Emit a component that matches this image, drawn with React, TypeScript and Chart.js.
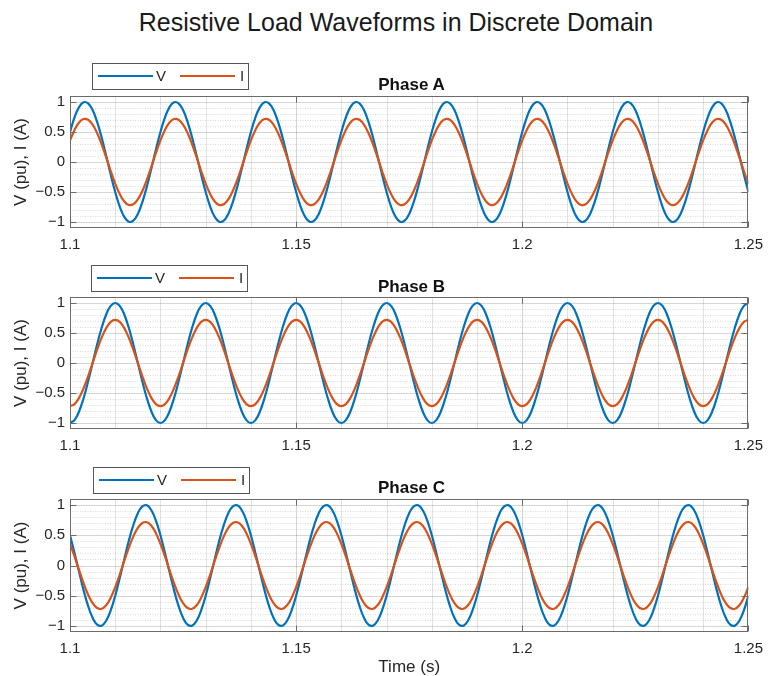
import React, { useEffect, useRef } from 'react';
import { Chart, registerables } from 'chart.js';

Chart.register(...registerables);

// ---------- data ----------
const T = [
  1.100, 1.101, 1.102, 1.103, 1.104, 1.105, 1.106, 1.107, 1.108, 1.109,
  1.110, 1.111, 1.112, 1.113, 1.114, 1.115, 1.116, 1.117, 1.118, 1.119,
  1.120, 1.121, 1.122, 1.123, 1.124, 1.125, 1.126, 1.127, 1.128, 1.129,
  1.130, 1.131, 1.132, 1.133, 1.134, 1.135, 1.136, 1.137, 1.138, 1.139,
  1.140, 1.141, 1.142, 1.143, 1.144, 1.145, 1.146, 1.147, 1.148, 1.149,
  1.150, 1.151, 1.152, 1.153, 1.154, 1.155, 1.156, 1.157, 1.158, 1.159,
  1.160, 1.161, 1.162, 1.163, 1.164, 1.165, 1.166, 1.167, 1.168, 1.169,
  1.170, 1.171, 1.172, 1.173, 1.174, 1.175, 1.176, 1.177, 1.178, 1.179,
  1.180, 1.181, 1.182, 1.183, 1.184, 1.185, 1.186, 1.187, 1.188, 1.189,
  1.190, 1.191, 1.192, 1.193, 1.194, 1.195, 1.196, 1.197, 1.198, 1.199,
  1.200, 1.201, 1.202, 1.203, 1.204, 1.205, 1.206, 1.207, 1.208, 1.209,
  1.210, 1.211, 1.212, 1.213, 1.214, 1.215, 1.216, 1.217, 1.218, 1.219,
  1.220, 1.221, 1.222, 1.223, 1.224, 1.225, 1.226, 1.227, 1.228, 1.229,
  1.230, 1.231, 1.232, 1.233, 1.234, 1.235, 1.236, 1.237, 1.238, 1.239,
  1.240, 1.241, 1.242, 1.243, 1.244, 1.245, 1.246, 1.247, 1.248, 1.249,
  1.250,
];

const VA = [
  0.5, 0.743, 0.914, 0.995, 0.978, 0.866, 0.669, 0.407, 0.105, -0.208, -0.5, -0.743, -0.914, -0.995, -0.978, -0.866, -0.669, -0.407, -0.105, 0.208,
  0.5, 0.743, 0.914, 0.995, 0.978, 0.866, 0.669, 0.407, 0.105, -0.208, -0.5, -0.743, -0.914, -0.995, -0.978, -0.866, -0.669, -0.407, -0.105, 0.208,
  0.5, 0.743, 0.914, 0.995, 0.978, 0.866, 0.669, 0.407, 0.105, -0.208, -0.5, -0.743, -0.914, -0.995, -0.978, -0.866, -0.669, -0.407, -0.105, 0.208,
  0.5, 0.743, 0.914, 0.995, 0.978, 0.866, 0.669, 0.407, 0.105, -0.208, -0.5, -0.743, -0.914, -0.995, -0.978, -0.866, -0.669, -0.407, -0.105, 0.208,
  0.5, 0.743, 0.914, 0.995, 0.978, 0.866, 0.669, 0.407, 0.105, -0.208, -0.5, -0.743, -0.914, -0.995, -0.978, -0.866, -0.669, -0.407, -0.105, 0.208,
  0.5, 0.743, 0.914, 0.995, 0.978, 0.866, 0.669, 0.407, 0.105, -0.208, -0.5, -0.743, -0.914, -0.995, -0.978, -0.866, -0.669, -0.407, -0.105, 0.208,
  0.5, 0.743, 0.914, 0.995, 0.978, 0.866, 0.669, 0.407, 0.105, -0.208, -0.5, -0.743, -0.914, -0.995, -0.978, -0.866, -0.669, -0.407, -0.105, 0.208,
  0.5, 0.743, 0.914, 0.995, 0.978, 0.866, 0.669, 0.407, 0.105, -0.208, -0.5,
];
const IA = [
  0.36, 0.535, 0.658, 0.716, 0.704, 0.624, 0.482, 0.293, 0.076, -0.15, -0.36, -0.535, -0.658, -0.716, -0.704, -0.624, -0.482, -0.293, -0.076, 0.15,
  0.36, 0.535, 0.658, 0.716, 0.704, 0.624, 0.482, 0.293, 0.076, -0.15, -0.36, -0.535, -0.658, -0.716, -0.704, -0.624, -0.482, -0.293, -0.076, 0.15,
  0.36, 0.535, 0.658, 0.716, 0.704, 0.624, 0.482, 0.293, 0.076, -0.15, -0.36, -0.535, -0.658, -0.716, -0.704, -0.624, -0.482, -0.293, -0.076, 0.15,
  0.36, 0.535, 0.658, 0.716, 0.704, 0.624, 0.482, 0.293, 0.076, -0.15, -0.36, -0.535, -0.658, -0.716, -0.704, -0.624, -0.482, -0.293, -0.076, 0.15,
  0.36, 0.535, 0.658, 0.716, 0.704, 0.624, 0.482, 0.293, 0.076, -0.15, -0.36, -0.535, -0.658, -0.716, -0.704, -0.624, -0.482, -0.293, -0.076, 0.15,
  0.36, 0.535, 0.658, 0.716, 0.704, 0.624, 0.482, 0.293, 0.076, -0.15, -0.36, -0.535, -0.658, -0.716, -0.704, -0.624, -0.482, -0.293, -0.076, 0.15,
  0.36, 0.535, 0.658, 0.716, 0.704, 0.624, 0.482, 0.293, 0.076, -0.15, -0.36, -0.535, -0.658, -0.716, -0.704, -0.624, -0.482, -0.293, -0.076, 0.15,
  0.36, 0.535, 0.658, 0.716, 0.704, 0.624, 0.482, 0.293, 0.076, -0.15, -0.36,
];

const VB = [
  -1, -0.951, -0.809, -0.588, -0.309, 0, 0.309, 0.588, 0.809, 0.951, 1, 0.951, 0.809, 0.588, 0.309, 0, -0.309, -0.588, -0.809, -0.951,
  -1, -0.951, -0.809, -0.588, -0.309, 0, 0.309, 0.588, 0.809, 0.951, 1, 0.951, 0.809, 0.588, 0.309, 0, -0.309, -0.588, -0.809, -0.951,
  -1, -0.951, -0.809, -0.588, -0.309, 0, 0.309, 0.588, 0.809, 0.951, 1, 0.951, 0.809, 0.588, 0.309, 0, -0.309, -0.588, -0.809, -0.951,
  -1, -0.951, -0.809, -0.588, -0.309, 0, 0.309, 0.588, 0.809, 0.951, 1, 0.951, 0.809, 0.588, 0.309, 0, -0.309, -0.588, -0.809, -0.951,
  -1, -0.951, -0.809, -0.588, -0.309, 0, 0.309, 0.588, 0.809, 0.951, 1, 0.951, 0.809, 0.588, 0.309, 0, -0.309, -0.588, -0.809, -0.951,
  -1, -0.951, -0.809, -0.588, -0.309, 0, 0.309, 0.588, 0.809, 0.951, 1, 0.951, 0.809, 0.588, 0.309, 0, -0.309, -0.588, -0.809, -0.951,
  -1, -0.951, -0.809, -0.588, -0.309, 0, 0.309, 0.588, 0.809, 0.951, 1, 0.951, 0.809, 0.588, 0.309, 0, -0.309, -0.588, -0.809, -0.951,
  -1, -0.951, -0.809, -0.588, -0.309, 0, 0.309, 0.588, 0.809, 0.951, 1,
];
const IB = [
  -0.72, -0.685, -0.582, -0.423, -0.222, 0, 0.222, 0.423, 0.582, 0.685, 0.72, 0.685, 0.582, 0.423, 0.222, 0, -0.222, -0.423, -0.582, -0.685,
  -0.72, -0.685, -0.582, -0.423, -0.222, 0, 0.222, 0.423, 0.582, 0.685, 0.72, 0.685, 0.582, 0.423, 0.222, 0, -0.222, -0.423, -0.582, -0.685,
  -0.72, -0.685, -0.582, -0.423, -0.222, 0, 0.222, 0.423, 0.582, 0.685, 0.72, 0.685, 0.582, 0.423, 0.222, 0, -0.222, -0.423, -0.582, -0.685,
  -0.72, -0.685, -0.582, -0.423, -0.222, 0, 0.222, 0.423, 0.582, 0.685, 0.72, 0.685, 0.582, 0.423, 0.222, 0, -0.222, -0.423, -0.582, -0.685,
  -0.72, -0.685, -0.582, -0.423, -0.222, 0, 0.222, 0.423, 0.582, 0.685, 0.72, 0.685, 0.582, 0.423, 0.222, 0, -0.222, -0.423, -0.582, -0.685,
  -0.72, -0.685, -0.582, -0.423, -0.222, 0, 0.222, 0.423, 0.582, 0.685, 0.72, 0.685, 0.582, 0.423, 0.222, 0, -0.222, -0.423, -0.582, -0.685,
  -0.72, -0.685, -0.582, -0.423, -0.222, 0, 0.222, 0.423, 0.582, 0.685, 0.72, 0.685, 0.582, 0.423, 0.222, 0, -0.222, -0.423, -0.582, -0.685,
  -0.72, -0.685, -0.582, -0.423, -0.222, 0, 0.222, 0.423, 0.582, 0.685, 0.72,
];

const VC = [
  0.5, 0.208, -0.105, -0.407, -0.669, -0.866, -0.978, -0.995, -0.914, -0.743, -0.5, -0.208, 0.105, 0.407, 0.669, 0.866, 0.978, 0.995, 0.914, 0.743,
  0.5, 0.208, -0.105, -0.407, -0.669, -0.866, -0.978, -0.995, -0.914, -0.743, -0.5, -0.208, 0.105, 0.407, 0.669, 0.866, 0.978, 0.995, 0.914, 0.743,
  0.5, 0.208, -0.105, -0.407, -0.669, -0.866, -0.978, -0.995, -0.914, -0.743, -0.5, -0.208, 0.105, 0.407, 0.669, 0.866, 0.978, 0.995, 0.914, 0.743,
  0.5, 0.208, -0.105, -0.407, -0.669, -0.866, -0.978, -0.995, -0.914, -0.743, -0.5, -0.208, 0.105, 0.407, 0.669, 0.866, 0.978, 0.995, 0.914, 0.743,
  0.5, 0.208, -0.105, -0.407, -0.669, -0.866, -0.978, -0.995, -0.914, -0.743, -0.5, -0.208, 0.105, 0.407, 0.669, 0.866, 0.978, 0.995, 0.914, 0.743,
  0.5, 0.208, -0.105, -0.407, -0.669, -0.866, -0.978, -0.995, -0.914, -0.743, -0.5, -0.208, 0.105, 0.407, 0.669, 0.866, 0.978, 0.995, 0.914, 0.743,
  0.5, 0.208, -0.105, -0.407, -0.669, -0.866, -0.978, -0.995, -0.914, -0.743, -0.5, -0.208, 0.105, 0.407, 0.669, 0.866, 0.978, 0.995, 0.914, 0.743,
  0.5, 0.208, -0.105, -0.407, -0.669, -0.866, -0.978, -0.995, -0.914, -0.743, -0.5,
];
const IC = [
  0.36, 0.15, -0.076, -0.293, -0.482, -0.624, -0.704, -0.716, -0.658, -0.535, -0.36, -0.15, 0.076, 0.293, 0.482, 0.624, 0.704, 0.716, 0.658, 0.535,
  0.36, 0.15, -0.076, -0.293, -0.482, -0.624, -0.704, -0.716, -0.658, -0.535, -0.36, -0.15, 0.076, 0.293, 0.482, 0.624, 0.704, 0.716, 0.658, 0.535,
  0.36, 0.15, -0.076, -0.293, -0.482, -0.624, -0.704, -0.716, -0.658, -0.535, -0.36, -0.15, 0.076, 0.293, 0.482, 0.624, 0.704, 0.716, 0.658, 0.535,
  0.36, 0.15, -0.076, -0.293, -0.482, -0.624, -0.704, -0.716, -0.658, -0.535, -0.36, -0.15, 0.076, 0.293, 0.482, 0.624, 0.704, 0.716, 0.658, 0.535,
  0.36, 0.15, -0.076, -0.293, -0.482, -0.624, -0.704, -0.716, -0.658, -0.535, -0.36, -0.15, 0.076, 0.293, 0.482, 0.624, 0.704, 0.716, 0.658, 0.535,
  0.36, 0.15, -0.076, -0.293, -0.482, -0.624, -0.704, -0.716, -0.658, -0.535, -0.36, -0.15, 0.076, 0.293, 0.482, 0.624, 0.704, 0.716, 0.658, 0.535,
  0.36, 0.15, -0.076, -0.293, -0.482, -0.624, -0.704, -0.716, -0.658, -0.535, -0.36, -0.15, 0.076, 0.293, 0.482, 0.624, 0.704, 0.716, 0.658, 0.535,
  0.36, 0.15, -0.076, -0.293, -0.482, -0.624, -0.704, -0.716, -0.658, -0.535, -0.36,
];

const SERIES_LABELS = ['V', 'I'];
const PHASE_TITLES = ['Phase A', 'Phase B', 'Phase C'];
const X_TICKS = [1.1, 1.15, 1.2, 1.25];
const Y_TICKS = [-1, -0.5, 0, 0.5, 1];
const MAIN_TITLE = 'Resistive Load Waveforms in Discrete Domain';
const Y_TITLE = 'V (pu), I (A)';
const X_TITLE = 'Time (s)';

// ---------- style ----------
const BLUE = '#0072BD';
const ORANGE = '#D95319';
const FONT = '"Liberation Sans", Arial, Helvetica, sans-serif';
const AXIS_COLOR = '#6b6b6b';
const TEXT_COLOR = '#262626';

const PHASES = [
  { title: PHASE_TITLES[0], v: VA, i: IA, top: 96, bottom: 228, legendLeft: 92, legendTop: 63, titleY: 85, showX: false },
  { title: PHASE_TITLES[1], v: VB, i: IB, top: 297, bottom: 429, legendLeft: 91, legendTop: 265, titleY: 287, showX: false },
  { title: PHASE_TITLES[2], v: VC, i: IC, top: 499, bottom: 632, legendLeft: 93, legendTop: 467, titleY: 488, showX: true },
];

const PAD_TOP = 40;

const matlabAxes = {
  id: 'matlabAxes',
  beforeDatasetsDraw(chart: any) {
    const { ctx, chartArea: a, scales } = chart;
    const x = scales.x;
    const y = scales.y;
    ctx.save();
    ctx.lineWidth = 1;
    // vertical grid (minor every 0.01, major every 0.05)
    for (let k = 1; k < 15; k++) {
      const px = Math.round(x.getPixelForValue(1.1 + k * 0.01)) + 0.5;
      ctx.setLineDash([]);
      ctx.strokeStyle = k % 5 === 0 ? 'rgba(0,0,0,0.17)' : 'rgba(0,0,0,0.11)';
      ctx.beginPath();
      ctx.moveTo(px, a.top);
      ctx.lineTo(px, a.bottom);
      ctx.stroke();
    }
    // horizontal grid (minor every 0.1 dotted, major every 0.5)
    for (let k = -10; k <= 10; k++) {
      const major = k % 5 === 0;
      const py = Math.round(y.getPixelForValue(k / 10)) + 0.5;
      ctx.setLineDash(major ? [] : [1, 1.5]);
      ctx.strokeStyle = major ? 'rgba(0,0,0,0.16)' : 'rgba(0,0,0,0.14)';
      ctx.beginPath();
      ctx.moveTo(a.left, py);
      ctx.lineTo(a.right, py);
      ctx.stroke();
    }
    ctx.restore();
  },
  afterDatasetsDraw(chart: any) {
    const { ctx, chartArea: a, scales } = chart;
    const x = scales.x;
    const y = scales.y;
    const L = Math.round(a.left) + 0.5;
    const R = Math.round(a.right) - 0.5;
    const Tp = Math.round(a.top) + 0.5;
    const B = Math.round(a.bottom) - 0.5;
    ctx.save();
    ctx.strokeStyle = AXIS_COLOR;
    ctx.lineWidth = 1;
    ctx.setLineDash([]);
    ctx.strokeRect(L, Tp, R - L, B - Tp);
    const tl = 6;
    ctx.beginPath();
    for (const v of X_TICKS) {
      const px = Math.round(x.getPixelForValue(v)) + 0.5;
      ctx.moveTo(px, B);
      ctx.lineTo(px, B - tl);
      ctx.moveTo(px, Tp);
      ctx.lineTo(px, Tp + tl);
    }
    for (const v of Y_TICKS) {
      const py = Math.round(y.getPixelForValue(v)) + 0.5;
      ctx.moveTo(L, py);
      ctx.lineTo(L + tl, py);
      ctx.moveTo(R, py);
      ctx.lineTo(R - tl, py);
    }
    ctx.stroke();
    ctx.restore();
  },
};

function fmtY(v: number) {
  if (Math.abs(v) < 1e-9) return '0';
  const s = String(Math.round(Math.abs(v) * 100) / 100);
  return v < 0 ? '\u2212' + s : s;
}

function PhaseChart({ cfg }: { cfg: any }) {
  const ref = useRef<HTMLCanvasElement>(null);
  const plotH = cfg.bottom - cfg.top;
  const xAxisH = cfg.showX ? 678 - cfg.bottom : 30;
  const canvasH = PAD_TOP + plotH + xAxisH;
  const canvasTop = cfg.top - PAD_TOP;

  useEffect(() => {
    if (!ref.current) return;
    const chart = new Chart(ref.current, {
      type: 'line',
      data: {
        labels: T,
        datasets: [
          {
            label: SERIES_LABELS[0],
            data: cfg.v,
            borderColor: BLUE,
            borderWidth: 2.2,
            pointRadius: 0,
            tension: 0.4,
            fill: false,
            order: 2,
          },
          {
            label: SERIES_LABELS[1],
            data: cfg.i,
            borderColor: ORANGE,
            borderWidth: 2.2,
            pointRadius: 0,
            tension: 0.4,
            fill: false,
            order: 1,
          },
        ],
      },
      options: {
        responsive: false,
        animation: false,
        devicePixelRatio: 1,
        events: [],
        layout: { padding: { top: PAD_TOP, right: 18, left: 0, bottom: 0 } },
        plugins: {
          legend: { display: false },
          tooltip: { enabled: false },
          title: { display: false },
        },
        scales: {
          x: {
            type: 'linear',
            min: 1.1,
            max: 1.25,
            afterBuildTicks: (s: any) => {
              s.ticks = X_TICKS.map((v) => ({ value: v }));
            },
            afterFit: (s: any) => {
              s.height = xAxisH;
            },
            grid: { display: false, drawTicks: false },
            border: { display: false },
            ticks: {
              autoSkip: false,
              maxRotation: 0,
              padding: 8,
              color: TEXT_COLOR,
              font: { family: FONT, size: 15 },
              callback: (v: any) => String(Math.round(Number(v) * 100) / 100),
            },
            title: {
              display: cfg.showX,
              text: X_TITLE,
              color: TEXT_COLOR,
              font: { family: FONT, size: 17 },
              padding: { top: 0, bottom: 0 },
            },
          },
          y: {
            type: 'linear',
            min: -1.1,
            max: 1.1,
            afterBuildTicks: (s: any) => {
              s.ticks = Y_TICKS.map((v) => ({ value: v }));
            },
            afterFit: (s: any) => {
              s.width = 70;
            },
            grid: { display: false, drawTicks: false },
            border: { display: false },
            ticks: {
              autoSkip: false,
              padding: 5,
              color: TEXT_COLOR,
              font: { family: FONT, size: 15 },
              callback: (v: any) => fmtY(Number(v)),
            },
            title: {
              display: true,
              text: Y_TITLE,
              color: TEXT_COLOR,
              font: { family: FONT, size: 17 },
              padding: { top: 11, bottom: 0 },
            },
          },
        },
      },
      plugins: [matlabAxes],
    } as any);
    return () => chart.destroy();
  }, []);

  return (
    <canvas
      ref={ref}
      width={771}
      height={canvasH}
      style={{ position: 'absolute', left: 0, top: canvasTop, width: 771, height: canvasH }}
    />
  );
}

function Legend({ left, top }: { left: number; top: number }) {
  return (
    <div
      style={{
        position: 'absolute',
        left,
        top,
        width: 157,
        height: 27,
        boxSizing: 'border-box',
        border: '1px solid #555',
        background: '#fff',
        fontFamily: FONT,
        fontSize: 15,
        color: TEXT_COLOR,
      }}
    >
      <div style={{ position: 'absolute', left: 5, top: 11, width: 55, height: 2, background: BLUE }} />
      <span style={{ position: 'absolute', left: 63, top: 3, lineHeight: '18px' }}>{SERIES_LABELS[0]}</span>
      <div style={{ position: 'absolute', left: 87, top: 11, width: 55, height: 2, background: ORANGE }} />
      <span style={{ position: 'absolute', left: 147, top: 3, lineHeight: '18px' }}>{SERIES_LABELS[1]}</span>
    </div>
  );
}

export default function App() {
  return (
    <div
      style={{
        position: 'absolute',
        left: 0,
        top: 0,
        width: 771,
        height: 676,
        overflow: 'hidden',
        background: '#fff',
        fontFamily: FONT,
      }}
    >
      <div
        style={{
          position: 'absolute',
          left: 96,
          top: 7,
          width: 600,
          textAlign: 'center',
          fontSize: 25,
          lineHeight: '30px',
          color: '#1a1a1a',
          whiteSpace: 'nowrap',
        }}
      >
        {MAIN_TITLE}
      </div>
      {PHASES.map((p, idx) => (
        <PhaseChart key={'c' + idx} cfg={p} />
      ))}
      {PHASES.map((p, idx) => (
        <div
          key={'t' + idx}
          style={{
            position: 'absolute',
            left: 70,
            width: 683,
            top: p.titleY - 10,
            lineHeight: '20px',
            textAlign: 'center',
            fontWeight: 'bold',
            fontSize: 17,
            color: '#111',
          }}
        >
          {p.title}
        </div>
      ))}
      {PHASES.map((p, idx) => (
        <Legend key={'l' + idx} left={p.legendLeft} top={p.legendTop} />
      ))}
    </div>
  );
}
